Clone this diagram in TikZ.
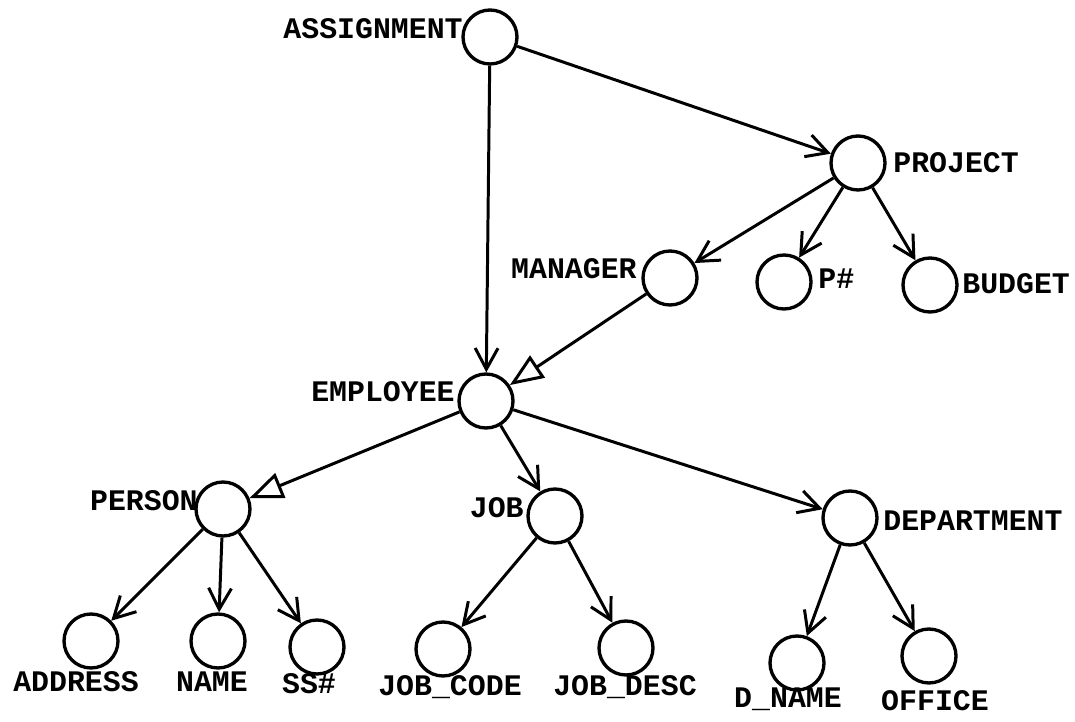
\documentclass[tikz,border=0pt]{standalone}
\usepackage{fontspec}
\setmonofont{Liberation Mono}
\usepackage{tikz}
\usetikzlibrary{arrows.meta}

\begin{document}
\begin{tikzpicture}[x=0.02cm,y=-0.02cm,
    attr/.style={draw, circle, line width=1.9pt, minimum size=1.08cm, inner sep=0pt},
    lbl/.style={font=\ttfamily\bfseries\fontsize{17}{19}\selectfont, inner sep=0pt,
      text height=0.62em, text depth=0pt},
    link/.style={line width=1.7pt, -{Straight Barb[length=12pt,width=13pt,line width=1.7pt]}},
    isa/.style={line width=1.7pt, -{Triangle[open,length=19pt,width=15pt,fill=white,line width=1.7pt]}}]
    \useasboundingbox (0,0) rectangle (1075,722);

    \node[attr] (asg) at (490,37) {};
    \node[attr] (proj) at (858,163) {};
    \node[attr] (mgr) at (670,278) {};
    \node[attr] (pnum) at (784,282) {};
    \node[attr] (budget) at (930,285) {};
    \node[attr] (emp) at (486,401) {};
    \node[attr] (person) at (223,509) {};
    \node[attr] (job) at (555,516) {};
    \node[attr] (dept) at (850,518) {};
    \node[attr] (addr) at (91,641) {};
    \node[attr] (name) at (218,641) {};
    \node[attr] (ssn) at (317,647) {};
    \node[attr] (jcode) at (443,649) {};
    \node[attr] (jdesc) at (626,648) {};
    \node[attr] (dname) at (797,663) {};
    \node[attr] (office) at (929,656) {};

    \node[lbl, anchor=east] (asgtext) at (463,33) {ASSIGNMENT};
    \node[lbl, anchor=west] (projtext) at (893,167) {PROJECT};
    \node[lbl, anchor=east] (mgrtext) at (637,273) {MANAGER};
    \node[lbl, anchor=west] (pnumtext) at (818,283) {P\#};
    \node[lbl, anchor=west] (budgettext) at (962,288) {BUDGET};
    \node[lbl, anchor=east] (emptext) at (455,396) {EMPLOYEE};
    \node[lbl, anchor=east] (persontext) at (198,505) {PERSON};
    \node[lbl, anchor=east] (jobtext) at (524,512) {JOB};
    \node[lbl, anchor=west] (depttext) at (883,525) {DEPARTMENT};
    \node[lbl] (addrtext) at (76,686) {ADDRESS};
    \node[lbl] (nametext) at (212,686) {NAME};
    \node[lbl] (ssntext) at (309,688) {SS\#};
    \node[lbl] (jcodetext) at (450,690) {JOB\_CODE};
    \node[lbl] (jdesctext) at (625,690) {JOB\_DESC};
    \node[lbl] (dnametext) at (788,702) {D\_NAME};
    \node[lbl] (officetext) at (935,705) {OFFICE};

    \draw[link] (asg) -- (proj);
    \draw[link] (asg) -- (emp);
    \draw[link] (proj) -- (mgr);
    \draw[link] (proj) -- (pnum);
    \draw[link] (proj) -- (budget);
    \draw[isa] (mgr) -- (emp);
    \draw[isa] (emp) -- (person);
    \draw[link] (emp) -- (job);
    \draw[link] (emp) -- (dept);
    \draw[link] (person) -- (addr);
    \draw[link] (person) -- (name);
    \draw[link] (person) -- (ssn);
    \draw[link] (job) -- (jcode);
    \draw[link] (job) -- (jdesc);
    \draw[link] (dept) -- (dname);
    \draw[link] (dept) -- (office);
\end{tikzpicture}
\end{document}
